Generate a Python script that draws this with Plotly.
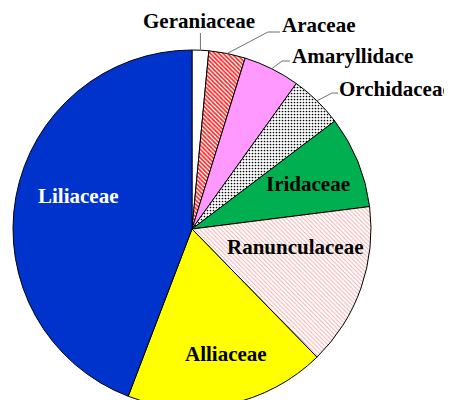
import math
import plotly.graph_objects as go

# ---- data ----
families = ["Geraniaceae", "Araceae", "Amaryllidace", "Orchidaceae",
            "Iridaceae", "Ranunculaceae", "Alliaceae", "Liliaceae"]
shares = [1.5, 3.3, 5.1, 4.8, 8.3, 14.7, 18.1, 44.2]

colors = ["#FFFFFF", "#FFFFFF", "#FF99FF", "#FFFFFF",
          "#00B050", "#FFFFFF", "#FFFF00", "#0033CC"]
pat_shape = ["", "\\", "", ".", "", "\\", "", ""]
pat_fg = ["#000000", "#FF2020", "#000000", "#000000",
          "#000000", "#F2A8A8", "#000000", "#000000"]
pat_size = [8, 3, 8, 3, 8, 3, 8, 8]
pat_solid = [0.3, 0.55, 0.3, 0.25, 0.3, 0.3, 0.3, 0.3]

OFF = 8            # page body margin
W, H = 444, 400    # figure size (ends at the window edge)
CX, CY, R = 192, 229, 179  # pie geometry in window pixels

def px(x):
    return (x - OFF) / W

def py(y):
    return 1 - (y - OFF) / H

fig = go.Figure(go.Pie(
    labels=families, values=shares, sort=False, direction="clockwise",
    rotation=0, textinfo="none", hoverinfo="skip",
    marker=dict(colors=colors, line=dict(color="#000000", width=1),
                pattern=dict(shape=pat_shape, fgcolor=pat_fg, bgcolor=colors,
                             size=pat_size, solidity=pat_solid,
                             fillmode="replace")),
    domain=dict(x=[px(CX - R), px(CX + R)], y=[max(0, py(CY + R)), py(CY - R)]),
    showlegend=False,
))

total = sum(shares)
mid = {}
acc = 0
for f, v in zip(families, shares):
    mid[f] = (acc + v / 2) / total * 2 * math.pi
    acc += v

def edge(f):
    a = mid[f]
    return CX + R * math.sin(a), CY - R * math.cos(a)

font = dict(family="Liberation Serif, Times New Roman, serif", size=21, color="#000000")
ann = []
shapes = []
line_style = dict(color="#707070", width=1)

# Outside labels with leader lines
ex, ey = edge("Geraniaceae")
shapes.append(dict(type="line", xref="paper", yref="paper",
                   x0=px(ex), y0=py(ey), x1=px(ex), y1=py(33), line=line_style))
ann.append(dict(text="<b>Geraniaceae</b>", x=px(199), y=py(21), xanchor="center"))

outside = [("Araceae", (268, 32), (280, 32), (280, 25.5)),
           ("Amaryllidace", (282, 61), (290, 61), (290, 56)),
           ("Orchidaceae", (332, 93), (338, 93), (337, 89))]
for f, elbow, end, lab in outside:
    ex, ey = edge(f)
    shapes.append(dict(type="path", xref="paper", yref="paper",
                       path=f"M {px(ex)},{py(ey)} L {px(elbow[0])},{py(elbow[1])} L {px(end[0])},{py(end[1])}",
                       line=line_style))
    ann.append(dict(text=f"<b>{f}</b>", x=px(lab[0]), y=py(lab[1]), xanchor="left"))

# Inside labels
inside = [("Iridaceae", 308, 184, "#000000"),
          ("Ranunculaceae", 295, 247, "#000000"),
          ("Alliaceae", 226, 354, "#000000"),
          ("Liliaceae", 77.5, 196.5, "#FFFFFF")]
for f, x, y, c in inside:
    ann.append(dict(text=f"<b>{f}</b>", x=px(x), y=py(y), xanchor="center",
                    font=dict(font, color=c)))

for a in ann:
    a.setdefault("font", font)
    a.update(xref="paper", yref="paper", yanchor="middle", showarrow=False)

fig.update_layout(width=W, height=H, margin=dict(l=0, r=0, t=0, b=0),
                  paper_bgcolor="#FFFFFF", plot_bgcolor="#FFFFFF",
                  annotations=ann, shapes=shapes)

fig.write_html("out.html")
